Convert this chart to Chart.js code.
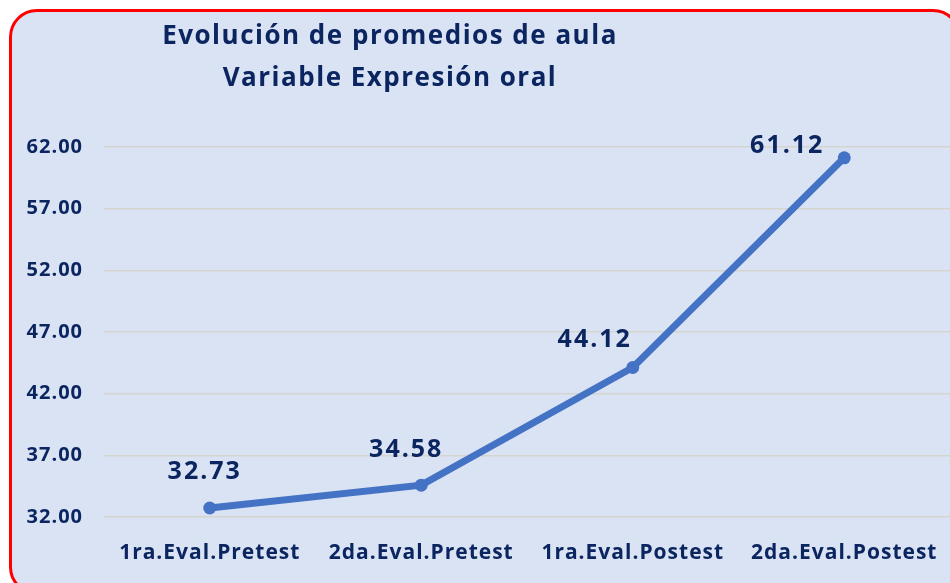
<!DOCTYPE html>
<html>
<head>
<meta charset="utf-8">
<script src="https://cdn.jsdelivr.net/npm/chart.js@4/dist/chart.umd.min.js"></script>
<style>
  html, body { margin: 0; padding: 0; background: #ffffff; overflow: hidden; }
  #frame {
    position: absolute; left: 9px; top: 9px; width: 946px; height: 580px;
    border: 3px solid #ff0000; border-radius: 28px; background: #dae3f3;
  }
  #wrap { position: absolute; left: 0; top: 0; width: 950px; height: 583px; }
</style>
</head>
<body>
<div id="frame"></div>
<div id="wrap"><canvas id="c" width="950" height="583"></canvas></div>
<script>
const titleLines = ["Evolución de promedios de aula", "Variable Expresión oral"];
const categories = ["1ra.Eval.Pretest", "2da.Eval.Pretest", "1ra.Eval.Postest", "2da.Eval.Postest"];
const promedios = [32.73, 34.58, 44.12, 61.12];
const yTicks = [32, 37, 42, 47, 52, 57, 62];

const navy = "#0b2560";
const fontFam = "'Open Sans', sans-serif";

const spacingPlugin = {
  id: "spacing",
  beforeDraw(chart) { chart.ctx.letterSpacing = "1px"; }
};

const titlePlugin = {
  id: "titleText",
  afterDraw(chart, args, opts) {
    const ctx = chart.ctx;
    ctx.save();
    ctx.letterSpacing = opts.spacing;
    ctx.fillStyle = navy;
    ctx.font = "bold 26px " + fontFam;
    ctx.textAlign = "center";
    ctx.textBaseline = "alphabetic";
    opts.lines.forEach((t, i) => ctx.fillText(t, opts.x, opts.y + i * opts.lineHeight));
    ctx.restore();
  }
};

const labelPlugin = {
  id: "pointLabels",
  afterDatasetsDraw(chart, args, opts) {
    const ctx = chart.ctx;
    const meta = chart.getDatasetMeta(0);
    ctx.save();
    ctx.letterSpacing = opts.spacing;
    ctx.fillStyle = navy;
    ctx.font = "bold 25px " + fontFam;
    ctx.textAlign = "center";
    ctx.textBaseline = "alphabetic";
    meta.data.forEach((pt, i) => {
      const off = opts.offsets[i];
      ctx.fillText(chart.data.datasets[0].data[i].toFixed(2), pt.x + off[0], pt.y + off[1]);
    });
    ctx.restore();
  }
};

new Chart(document.getElementById("c"), {
  type: "line",
  data: {
    labels: categories,
    datasets: [{
      data: promedios,
      borderColor: "#4472c4",
      backgroundColor: "#4472c4",
      borderWidth: 7,
      pointRadius: 6.5,
      pointHoverRadius: 6.5,
      pointBackgroundColor: "#4472c4",
      pointBorderWidth: 0,
      tension: 0,
      fill: false,
      clip: false
    }]
  },
  options: {
    responsive: false,
    animation: false,
    layout: { autoPadding: false, padding: { top: 147, left: 0, right: 0, bottom: 0 } },
    plugins: {
      legend: { display: false },
      tooltip: { enabled: false },
      titleText: { lines: titleLines, x: 390, y: 44, lineHeight: 42, spacing: "1.5px" },
      pointLabels: { spacing: "2px", offsets: [[-5, -29], [-15, -28], [-38, -21], [-57, -5]] }
    },
    scales: {
      x: {
        offset: true,
        grid: { display: false, drawTicks: false },
        border: { display: false },
        ticks: { color: navy, font: { family: fontFam, size: 21, weight: "bold" }, padding: 23, maxRotation: 0 },
        afterFit: s => { s.height = 66; s.paddingLeft = 0; s.paddingRight = 0; }
      },
      y: {
        min: 32, max: 62,
        afterBuildTicks: s => { s.ticks = yTicks.map(v => ({ value: v })); },
        grid: { color: "#d5d5cf", lineWidth: 1.5, drawTicks: false },
        border: { display: false },
        ticks: {
          color: navy, padding: 21,
          font: { family: fontFam, size: 20, weight: "bold" },
          callback: v => Number(v).toFixed(2)
        },
        afterFit: s => { s.width = 104; }
      }
    }
  },
  plugins: [spacingPlugin, titlePlugin, labelPlugin]
});
</script>
</body>
</html>
